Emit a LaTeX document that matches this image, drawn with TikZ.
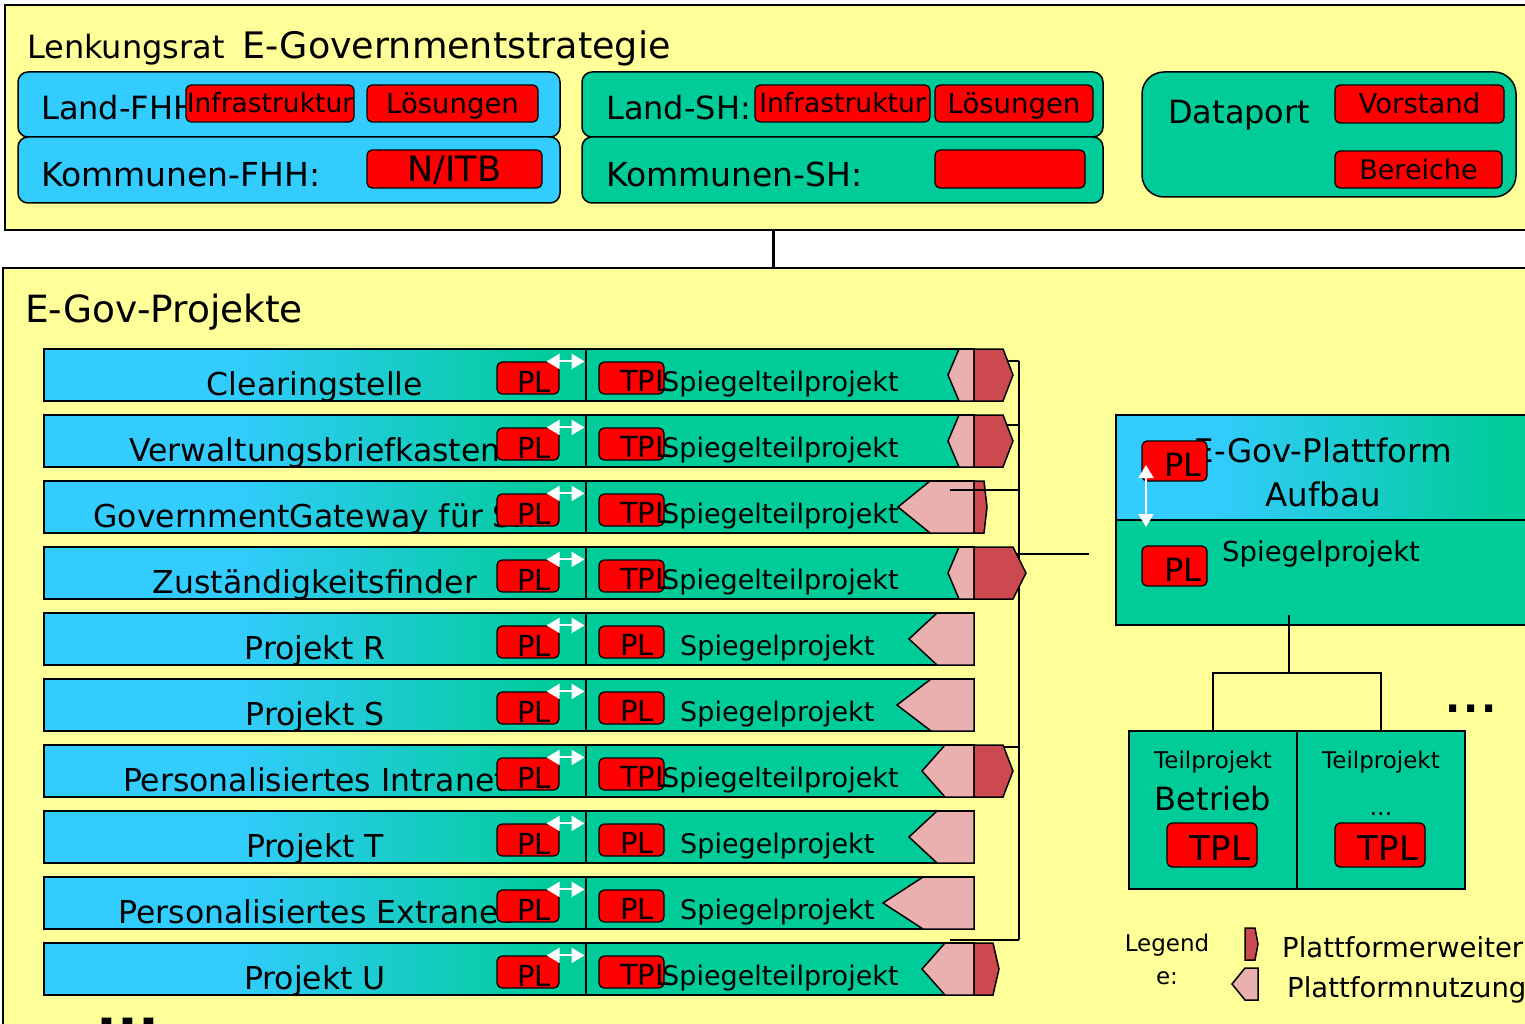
\documentclass[tikz,border=0pt]{standalone}
\usepackage{fontspec}
\setmainfont{DejaVu Sans}
\usepackage{tikz}
\usetikzlibrary{arrows.meta}
\usepackage{xcolor}

\definecolor{egyellow}{HTML}{FFFF99}
\definecolor{egblue}{HTML}{33CCFF}
\definecolor{eggreen}{HTML}{00CC99}
\definecolor{egred}{HTML}{FF0000}
\definecolor{egpink}{HTML}{EAAFAF}
\definecolor{egdark}{HTML}{CC4A4F}
\pgfdeclarehorizontalshading{projshade}{100bp}{color(0bp)=(egblue); color(42bp)=(egblue); color(72bp)=(eggreen); color(100bp)=(eggreen)}
\pgfdeclarehorizontalshading{platshade}{100bp}{color(0bp)=(egblue); color(36bp)=(egblue); color(70bp)=(eggreen); color(100bp)=(eggreen)}
\newcommand{\fsz}[1]{\fontsize{#1pt}{#1pt}\selectfont}

\begin{document}
\begin{tikzpicture}[x=1pt, y=-1pt, >=stealth,
    panel/.style={draw=black, line width=1.5pt, fill=egyellow, inner sep=0pt},
    bluebox/.style={draw=black, line width=1.5pt, fill=egblue, rounded corners=10pt, inner sep=0pt},
    greenbox/.style={draw=black, line width=1.5pt, fill=eggreen, rounded corners=10pt, inner sep=0pt},
    redbox/.style={draw=black, line width=1.2pt, fill=egred, rounded corners=5pt, inner sep=0pt},
    rowbar/.style={draw=black, line width=1.5pt, shade, shading=projshade, inner sep=0pt, minimum width=542pt, minimum height=52pt},
    rowmirror/.style={draw=black, line width=1.5pt, fill=eggreen, inner sep=0pt, minimum width=388pt, minimum height=52pt},
    usetip/.style={draw=black, line width=1.5pt, fill=egpink},
    exttip/.style={draw=black, line width=1.5pt, fill=egdark},
    txt/.style={inner sep=0pt, anchor=base},
    whitearrow/.style={draw=white, line width=2pt, {Triangle[length=13pt,width=15pt]}-{Triangle[length=13pt,width=15pt]}},
    link/.style={draw=black, line width=1.5pt}]
    \useasboundingbox[fill=white] (0,0) rectangle (1525,1024);

    % Lenkungsrat
    \node[panel, minimum width=1536pt, minimum height=225pt] (council) at (773,117.5) {};
    \node[txt, anchor=base west, font=\fsz{32}] (councillabel) at (27,59) {Lenkungsrat};
    \node[txt, anchor=base west, font=\fsz{36.5}] (counciltitle) at (242,59) {E-Governmentstrategie};

    \node[bluebox, minimum width=542pt, minimum height=65pt] (fhhland) at (289,104.5) {};
    \node[bluebox, minimum width=542pt, minimum height=66pt] (fhhkomm) at (289,170) {};
    \node[txt, anchor=base west, font=\fsz{32}] (fhhlandlabel) at (41,120) {Land-FHH:};
    \node[txt, anchor=base west, font=\fsz{33}] (fhhkommlabel) at (41,187) {Kommunen-FHH:};
    \node[redbox, minimum width=168pt, minimum height=37pt] (fhhinfra) at (270,103.5) {};
    \node[txt, font=\fsz{26.5}] (fhhinfratext) at (270,113) {Infrastruktur};
    \node[redbox, minimum width=171pt, minimum height=37pt] (fhhloes) at (452.5,103.5) {};
    \node[txt, font=\fsz{27.5}] (fhhloestext) at (452.5,113.5) {Lösungen};
    \node[redbox, minimum width=175pt, minimum height=38pt] (fhhitb) at (454.5,169) {};
    \node[txt, font=\fsz{35}] (fhhitbtext) at (454.5,182) {N/ITB};

    \node[greenbox, minimum width=521pt, minimum height=65pt] (shland) at (842.5,104.5) {};
    \node[greenbox, minimum width=521pt, minimum height=66pt] (shkomm) at (842.5,170) {};
    \node[txt, anchor=base west, font=\fsz{32}] (shlandlabel) at (606,120) {Land-SH:};
    \node[txt, anchor=base west, font=\fsz{33}] (shkommlabel) at (606,187) {Kommunen-SH:};
    \node[redbox, minimum width=175pt, minimum height=37pt] (shinfra) at (842.5,103.5) {};
    \node[txt, font=\fsz{26.5}] (shinfratext) at (842.5,113) {Infrastruktur};
    \node[redbox, minimum width=158pt, minimum height=37pt] (shloes) at (1014,103.5) {};
    \node[txt, font=\fsz{27.5}] (shloestext) at (1014,113.5) {Lösungen};
    \node[redbox, minimum width=150pt, minimum height=38pt] (shitb) at (1010,169) {};

    \node[greenbox, rounded corners=22pt, minimum width=374pt, minimum height=125pt] (dataport) at (1329,134.5) {};
    \node[txt, anchor=base west, font=\fsz{32}] (dataportlabel) at (1168,124) {Dataport};
    \node[redbox, minimum width=169pt, minimum height=38pt] (vorstand) at (1419.5,104) {};
    \node[txt, font=\fsz{27.5}] (vorstandtext) at (1419.5,114) {Vorstand};
    \node[redbox, minimum width=167pt, minimum height=37pt] (bereiche) at (1418.5,169.5) {};
    \node[txt, font=\fsz{27}] (bereichetext) at (1418.5,179.5) {Bereiche};

    % E-Gov-Projekte
    \node[panel, minimum width=1540pt, minimum height=776pt] (projects) at (773,656) {};
    \draw[line width=3pt] (council.south) -- (projects.north);
    \node[txt, anchor=base west, font=\fsz{37.5}] (projectstitle) at (25,322) {E-Gov-Projekte};

    % Plattform bus
    \coordinate (bustop) at (1019,361);
    \coordinate (busend) at (1019,940);
    \draw[link] (bustop) -- (busend);
    \foreach \k/\y in {1/361, 2/425, 4/554, 7/747, 10/940} {
        \coordinate (tap\k) at (950,\y);
        \draw[link] (tap\k) -- (tap\k -| bustop);
    }

    % Projekt rows
    \foreach \i/\ry/\lbl/\lead/\mirror/\mx/\tipx/\nibx/\extx/\extipx in {
        1/349/Clearingstelle/TPL/Spiegelteilprojekt/662/948/959/1003/1013,
        2/415/Verwaltungsbriefkasten/TPL/Spiegelteilprojekt/662/948/959/1003/1013,
        3/481/GovernmentGateway für SH/TPL/Spiegelteilprojekt/662/898/930/984/987,
        4/547/Zuständigkeitsfinder/TPL/Spiegelteilprojekt/662/948/959/1013/1026,
        5/613/Projekt R/PL/Spiegelprojekt/680/909/937/0/0,
        6/679/Projekt S/PL/Spiegelprojekt/680/897/931/0/0,
        7/745/Personalisiertes Intranet/TPL/Spiegelteilprojekt/662/922/945/1003/1013,
        8/811/Projekt T/PL/Spiegelprojekt/680/909/937/0/0,
        9/877/Personalisiertes Extranet/PL/Spiegelprojekt/680/883/923/0/0,
        10/943/Projekt U/TPL/Spiegelteilprojekt/662/922/945/993/999} {
        \node[rowbar] (bar\i) at (315,\ry+26) {};
        \node[rowmirror] (mirror\i) at (780,\ry+26) {};
        \node[txt, font=\fsz{31.5}] (name\i) at (315,\ry+46) {\lbl};
        \node[redbox, minimum width=62pt, minimum height=32pt] (pl\i) at (528,\ry+29) {};
        \node[txt, font=\fsz{29}] (pltext\i) at (534,\ry+43) {PL};
        \draw[whitearrow] ([xshift=-13pt]pl\i.north east) -- ([xshift=25pt]pl\i.north east);
        \node[redbox, minimum width=65pt, minimum height=32pt] (lead\i) at (631.5,\ry+29) {};
        \node[txt, anchor=base west, font=\fsz{29}] (leadtext\i) at (620,\ry+42) {\lead};
        \node[txt, anchor=base west, font=\fsz{27}] (mirrortext\i) at (\mx,\ry+42) {\mirror};
        \filldraw[usetip] (\nibx,\ry) -- (974,\ry) -- (974,\ry+52) -- (\nibx,\ry+52) -- (\tipx,\ry+26) -- cycle;
        \ifnum\extx>0
            \filldraw[exttip] (974,\ry) -- (\extx,\ry) -- (\extipx,\ry+26) -- (\extx,\ry+52) -- (974,\ry+52) -- cycle;
        \fi
    }
    % row 3 link lies over its tips
    \coordinate (tap3) at (950,490);
    \draw[link] (tap3) -- (tap3 -| bustop);
    \node[txt, font=\fsz{55}\bfseries] (moreprojects) at (128,1028) {...};

    % E-Gov-Plattform
    \coordinate (platlink) at (1089,554);
    \draw[link] (tap4 -| bustop) -- (platlink);
    \node[draw=black, line width=1.5pt, shade, shading=platshade, inner sep=0pt, minimum width=429pt, minimum height=105pt] (platup) at (1330.5,467.5) {};
    \node[draw=black, line width=1.5pt, fill=eggreen, inner sep=0pt, minimum width=429pt, minimum height=105pt] (platdown) at (1330.5,572.5) {};
    \node[txt, font=\fsz{32.5}] (plattitle) at (1323,462) {E-Gov-Plattform};
    \node[txt, font=\fsz{32.5}] (platsub) at (1323,506) {Aufbau};
    \node[redbox, minimum width=65pt, minimum height=40pt] (platpl) at (1174.5,461) {};
    \node[txt, font=\fsz{32}] (platpltext) at (1183,476) {PL};
    \node[redbox, minimum width=65pt, minimum height=40pt] (mirrorpl) at (1174.5,566) {};
    \node[txt, font=\fsz{32}] (mirrorpltext) at (1183,581) {PL};
    \node[txt, anchor=base west, font=\fsz{27.5}] (mirrorlabel) at (1222,561) {Spiegelprojekt};
    \coordinate (plattop) at (1146,465);
    \coordinate (platbot) at (1146,527);
    \draw[whitearrow] (plattop) -- (platbot);

    % Teilprojekte
    \node[draw=black, line width=1.5pt, fill=eggreen, minimum width=168pt, minimum height=158pt] (tp1) at (1213,810) {};
    \node[draw=black, line width=1.5pt, fill=eggreen, minimum width=168pt, minimum height=158pt] (tp2) at (1381,810) {};
    \coordinate (stem) at (1289,615);
    \coordinate (fork) at (1289,673);
    \draw[line width=2.5pt] (stem) -- (fork);
    \draw[link] (tp1.north) |- (fork) -| (tp2.north);
    \node[txt, font=\fsz{23}] (tp1label) at (1213,768) {Teilprojekt};
    \node[txt, font=\fsz{32}] (tp1name) at (1213,810) {Betrieb};
    \node[txt, font=\fsz{23}] (tp2label) at (1381,768) {Teilprojekt};
    \node[txt, font=\fsz{24}] (tp2name) at (1381,815) {...};
    \node[redbox, minimum width=90pt, minimum height=44pt] (tpl1) at (1212,845) {};
    \node[txt, font=\fsz{34}] (tpl1text) at (1220,860) {TPL};
    \node[redbox, minimum width=90pt, minimum height=44pt] (tpl2) at (1380,845) {};
    \node[txt, font=\fsz{34}] (tpl2text) at (1388,860) {TPL};
    \node[txt, font=\fsz{40}\bfseries] (moreparts) at (1471,712) {.\hspace{3pt}.\hspace{3pt}.};

    % Legende
    \node[txt, align=center, font=\fontsize{23pt}{33pt}\selectfont] (legend) at (1167,984) {Legend\\e:};
    \filldraw[exttip] (1245,928) -- (1255,928) -- (1258,944) -- (1255,960) -- (1245,960) -- cycle;
    \filldraw[usetip] (1245,968) -- (1258,968) -- (1258,1000) -- (1245,1000) -- (1232,984) -- cycle;
    \node[txt, anchor=base west, font=\fsz{27.5}] (extlabel) at (1282,957) {Plattformerweiterung};
    \node[txt, anchor=base west, font=\fsz{27.5}] (uselabel) at (1287,997) {Plattformnutzung};
\end{tikzpicture}
\end{document}
